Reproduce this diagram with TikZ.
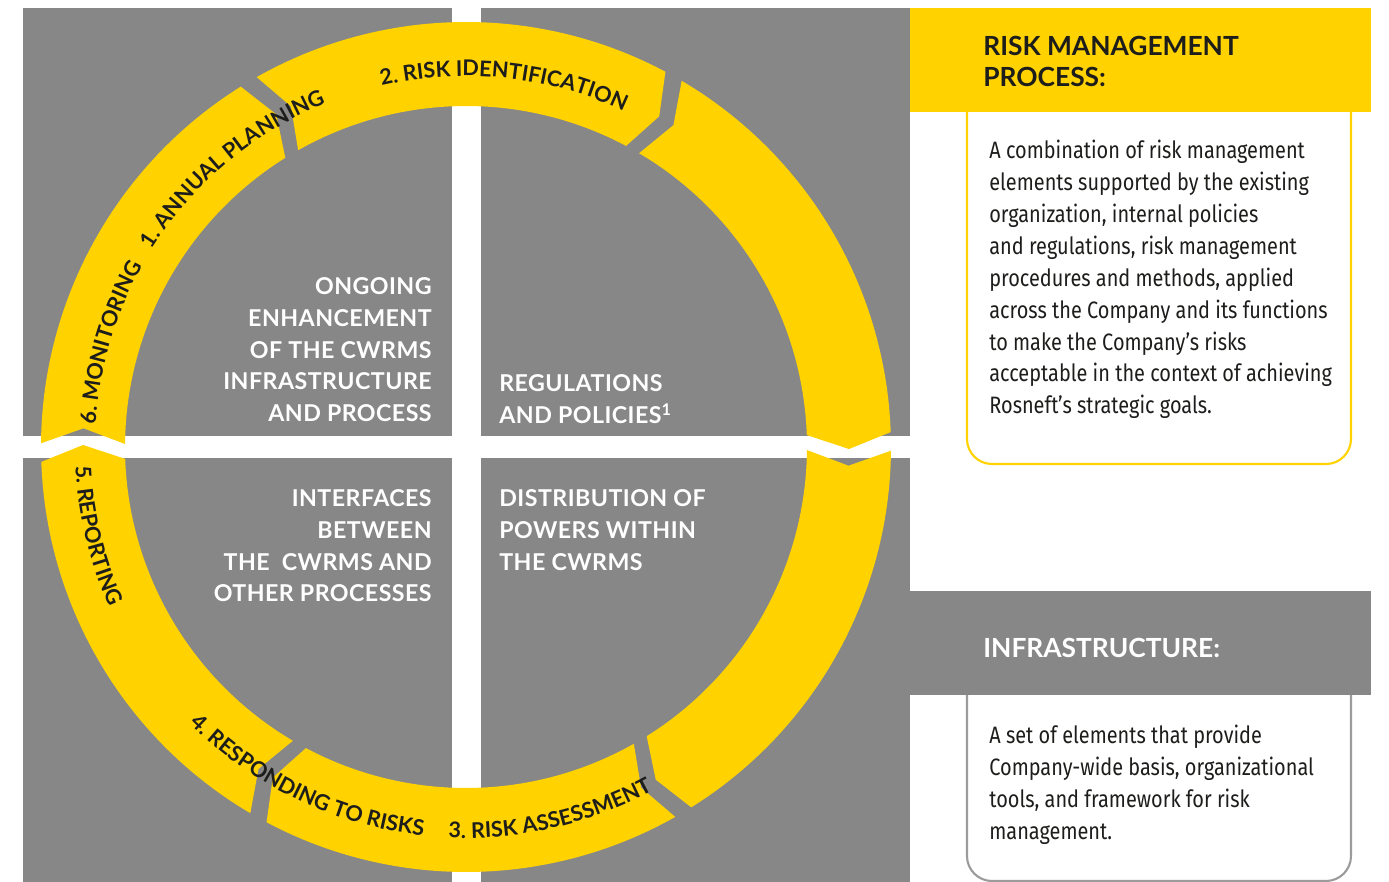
\documentclass[tikz,border=0pt]{standalone}
\usepackage{fontspec}
\usepackage{tikz}
\usetikzlibrary{decorations.text}
\definecolor{rnyellow}{HTML}{FFD200}
\definecolor{rngray}{HTML}{878787}
\definecolor{rnline}{HTML}{9B9B9B}
\definecolor{rnink}{HTML}{1D1D1B}
\newfontfamily\capsfont{Lato}
\newfontfamily\quadfont{Lato}[LetterSpace=2]
\newfontfamily\bodyfont{Fira Sans}[FakeStretch=0.84]
\newcommand{\ringfont}{\capsfont\bfseries\fontsize{12.3}{14}\selectfont\color{rnink}}

\begin{document}
\begin{tikzpicture}[x=0.02cm, y=0.02cm,
    panel/.style={fill=rngray},
    ringseg/.style={fill=rnyellow},
    ringlabel/.style={decorate, decoration={text along path, text align=center, text={|\ringfont|#1}}},
    quadtext/.style={font=\quadfont\bfseries\fontsize{13.2}{18.14}\selectfont, text=white, inner sep=0pt},
    headtext/.style={font=\capsfont\bfseries\fontsize{15}{17.6}\selectfont, inner sep=0pt, align=left, anchor=north west},
    bodytext/.style={font=\bodyfont\fontsize{13.5}{18.14}\selectfont, text=rnink, inner sep=0pt, align=left, anchor=north west},
    frame/.style={line width=1.2pt, rounded corners=0.5cm}]
    \useasboundingbox (-466,-435) rectangle (923,447);

    % Gray quadrants (origin = centre of the ring)
    \fill[panel] (-443,11) rectangle (-14,439);
    \fill[panel] (15,11) rectangle (444,439);
    \fill[panel] (-443,-435) rectangle (-14,-11);
    \fill[panel] (15,-435) rectangle (444,-11);

    % Ring segments, clockwise
    \fill[ringseg] (179.5:425) arc[start angle=179.5, end angle=122, radius=8.5cm] -- (119.7:383) -- (122:341) arc[start angle=122, end angle=179.5, radius=6.82cm] -- (177.2:383) -- cycle;
    \fill[ringseg] (119.5:425) arc[start angle=119.5, end angle=62, radius=8.5cm] -- (59.7:383) -- (62:341) arc[start angle=62, end angle=119.5, radius=6.82cm] -- (117.2:383) -- cycle;
    \fill[ringseg] (59.5:425) arc[start angle=59.5, end angle=2, radius=8.5cm] -- (-0.3:383) -- (2:341) arc[start angle=2, end angle=59.5, radius=6.82cm] -- (57.2:383) -- cycle;
    \fill[ringseg] (-0.5:425) arc[start angle=-0.5, end angle=-58, radius=8.5cm] -- (-60.3:383) -- (-58:341) arc[start angle=-58, end angle=-0.5, radius=6.82cm] -- (-2.8:383) -- cycle;
    \fill[ringseg] (-60.5:425) arc[start angle=-60.5, end angle=-118, radius=8.5cm] -- (-120.3:383) -- (-118:341) arc[start angle=-118, end angle=-60.5, radius=6.82cm] -- (-62.8:383) -- cycle;
    \fill[ringseg] (-120.5:425) arc[start angle=-120.5, end angle=-178, radius=8.5cm] -- (-180.3:383) -- (-178:341) arc[start angle=-178, end angle=-120.5, radius=6.82cm] -- (-122.8:383) -- cycle;

    % Step labels along the ring
    \path[ringlabel={2. RISK IDENTIFICATION}] (124:371) arc[start angle=124, end angle=44, radius=7.42cm];
    \path[ringlabel={1. ANNUAL PLANNING}] (170:371) arc[start angle=170, end angle=90, radius=7.42cm];
    \path[ringlabel={6. MONITORING}] (203.6:371) arc[start angle=203.6, end angle=123.6, radius=7.42cm];
    \path[ringlabel={5. REPORTING}] (153.5:391) arc[start angle=153.5, end angle=233.5, radius=7.82cm];
    \path[ringlabel={4. RESPONDING TO RISKS}] (204.4:391) arc[start angle=204.4, end angle=284.4, radius=7.82cm];
    \path[ringlabel={3. RISK ASSESSMENT}] (243:391) arc[start angle=243, end angle=323, radius=7.82cm];

    % Quadrant captions
    \node[quadtext, anchor=north east, align=right] (ongoing) at (-34,170) {ONGOING\\ENHANCEMENT\\OF THE CWRMS\\INFRASTRUCTURE\\AND PROCESS};
    \node[quadtext, anchor=north west, align=left] (regul) at (33,73) {REGULATIONS\\AND POLICIES\textsuperscript{1}};
    \node[quadtext, anchor=north east, align=right] (interf) at (-34,-42) {INTERFACES\\BETWEEN\\THE~~CWRMS AND\\OTHER PROCESSES};
    \node[quadtext, anchor=north west, align=left] (distrib) at (33,-42) {DISTRIBUTION OF\\POWERS WITHIN\\THE CWRMS};

    % Risk management process
    \draw[frame, rnyellow] (501,335) -- (501,-17) -- (885,-17) -- (885,335);
    \fill[rnyellow] (444,335) rectangle (905,439);
    \node[headtext, text=rnink] (prochead) at (517,411) {RISK MANAGEMENT\\PROCESS:};
    \node[bodytext] (procbody) at (523,307) {A combination of risk management\\elements supported by the existing\\organization, internal policies\\and regulations, risk management\\procedures and methods, applied\\across the Company and its functions\\to make the Company’s risks\\acceptable in the context of achieving\\Rosneft’s strategic goals.};

    % Infrastructure
    \draw[frame, rnline] (501,-248) -- (501,-434) -- (885,-434) -- (885,-248);
    \fill[rngray] (444,-248) rectangle (905,-144);
    \node[headtext, text=white] (infrahead) at (517,-191) {INFRASTRUCTURE:};
    \node[bodytext] (infrabody) at (523,-278) {A set of elements that provide\\Company-wide basis, organizational\\tools, and framework for risk\\management.};
\end{tikzpicture}
\end{document}
